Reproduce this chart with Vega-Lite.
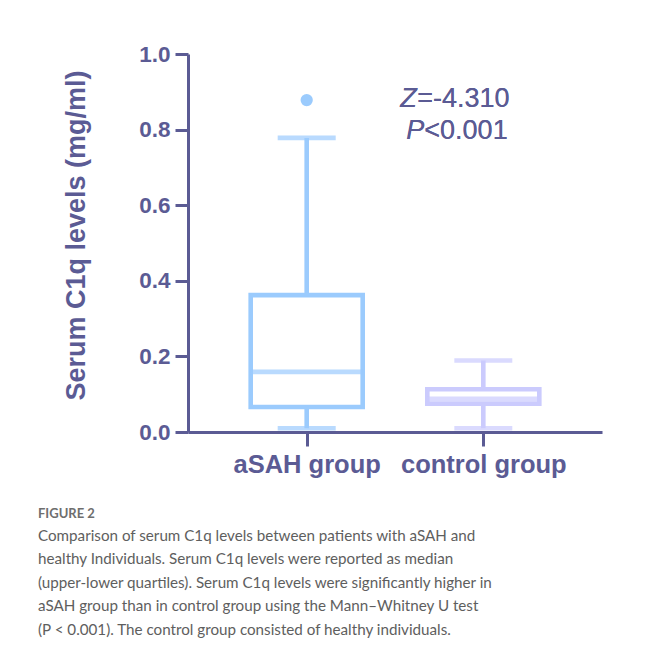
{
  "$schema": "https://vega.github.io/schema/vega-lite/v6.json",
  "width": 414,
  "height": 378,
  "autosize": {"type": "none"},
  "padding": {"left": 188, "top": 54, "right": 53, "bottom": 232},
  "background": "white",
  "config": {"view": {"stroke": null}},
  "title": {
    "text": "FIGURE 2",
    "subtitle": [
      "Comparison of serum C1q levels between patients with aSAH and",
      "healthy Individuals. Serum C1q levels were reported as median",
      "(upper-lower quartiles). Serum C1q levels were significantly higher in",
      "aSAH group than in control group using the Mann–Whitney U test",
      "(P < 0.001). The control group consisted of healthy individuals."
    ],
    "orient": "bottom",
    "anchor": "start",
    "frame": "group",
    "dx": -150,
    "offset": 30,
    "font": "Lato",
    "fontSize": 13,
    "fontWeight": "bold",
    "color": "#6e6e6e",
    "subtitleFont": "Lato",
    "subtitleFontSize": 15.2,
    "subtitleFontWeight": "normal",
    "subtitleColor": "#5e5e5e",
    "subtitleLineHeight": 23.5,
    "subtitlePadding": 8
  },
  "data": {
    "values": [
      {"group": "aSAH group", "low": 0.01, "q1": 0.066, "median": 0.159, "q3": 0.362, "high": 0.778, "outlier": 0.878},
      {"group": "control group", "low": 0.01, "q1": 0.075, "median": 0.088, "q3": 0.113, "high": 0.189, "outlier": null}
    ]
  },
  "encoding": {
    "x": {
      "field": "group",
      "type": "nominal",
      "sort": ["aSAH group", "control group"],
      "scale": {"type": "point", "padding": 0.672},
      "axis": {
        "title": null,
        "labelAngle": 0,
        "labelFont": "Liberation Sans",
        "labelFontSize": 25.5,
        "labelFontWeight": "bold",
        "labelColor": "#5b5b94",
        "labelPadding": 6,
        "tickSize": 14,
        "tickWidth": 3,
        "tickColor": "#5b5b94",
        "domainColor": "#5b5b94",
        "domainWidth": 3,
        "grid": false
      }
    },
    "color": {
      "field": "group",
      "type": "nominal",
      "scale": {"domain": ["aSAH group", "control group"], "range": ["#9bcbfd", "#cbcbfd"]},
      "legend": null
    }
  },
  "layer": [
    {
      "mark": {"type": "rule", "strokeWidth": 4.6},
      "encoding": {
        "y": {
          "field": "low",
          "type": "quantitative",
          "scale": {"domain": [0, 1]},
          "axis": {
            "title": "Serum C1q levels (mg/ml)",
            "values": [0, 0.2, 0.4, 0.6, 0.8, 1.0],
            "format": ".1f",
            "grid": false,
            "labelFont": "Liberation Sans",
            "labelFontSize": 22.5,
            "labelFontWeight": "bold",
            "labelColor": "#5b5b94",
            "labelPadding": 5,
            "tickSize": 13,
            "tickWidth": 3,
            "tickColor": "#5b5b94",
            "domainColor": "#5b5b94",
            "domainWidth": 3,
            "titleFont": "Liberation Sans",
            "titleFontSize": 27,
            "titleFontWeight": "bold",
            "titleColor": "#5b5b94",
            "titlePadding": 48,
            "titleY": 181
          }
        },
        "y2": {"field": "high"}
      }
    },
    {
      "mark": {"type": "bar", "width": 112, "fill": "white", "strokeWidth": 4.6},
      "encoding": {
        "y": {"field": "q1", "type": "quantitative"},
        "y2": {"field": "q3"},
        "stroke": {"field": "group", "type": "nominal", "scale": {"domain": ["aSAH group", "control group"], "range": ["#9bcbfd", "#cbcbfd"]}, "legend": null}
      }
    },
    {
      "mark": {"type": "tick", "size": 112, "thickness": 4.6},
      "encoding": {"y": {"field": "median", "type": "quantitative"}}
    },
    {
      "mark": {"type": "tick", "size": 58, "thickness": 4.6},
      "encoding": {"y": {"field": "low", "type": "quantitative"}}
    },
    {
      "mark": {"type": "tick", "size": 58, "thickness": 4.6},
      "encoding": {"y": {"field": "high", "type": "quantitative"}}
    },
    {
      "mark": {"type": "circle", "size": 150, "opacity": 1},
      "transform": [{"filter": "datum.outlier != null"}],
      "encoding": {"y": {"field": "outlier", "type": "quantitative"}}
    },
    {
      "mark": {"type": "text", "font": "Liberation Sans", "fontSize": 27, "fontStyle": "italic", "align": "left", "baseline": "alphabetic", "dx": -83},
      "encoding": {"x": {"datum": "control group"}, "y": {"datum": 0.86}, "text": {"value": "Z"}, "color": {"value": "#5b5b94"}}
    },
    {
      "mark": {"type": "text", "font": "Liberation Sans", "fontSize": 27, "align": "left", "baseline": "alphabetic", "dx": -66},
      "encoding": {"x": {"datum": "control group"}, "y": {"datum": 0.86}, "text": {"value": "=-4.310"}, "color": {"value": "#5b5b94"}}
    },
    {
      "mark": {"type": "text", "font": "Liberation Sans", "fontSize": 27, "fontStyle": "italic", "align": "left", "baseline": "alphabetic", "dx": -77},
      "encoding": {"x": {"datum": "control group"}, "y": {"datum": 0.774}, "text": {"value": "P"}, "color": {"value": "#5b5b94"}}
    },
    {
      "mark": {"type": "text", "font": "Liberation Sans", "fontSize": 27, "align": "left", "baseline": "alphabetic", "dx": -59},
      "encoding": {"x": {"datum": "control group"}, "y": {"datum": 0.774}, "text": {"value": "<0.001"}, "color": {"value": "#5b5b94"}}
    }
  ]
}
